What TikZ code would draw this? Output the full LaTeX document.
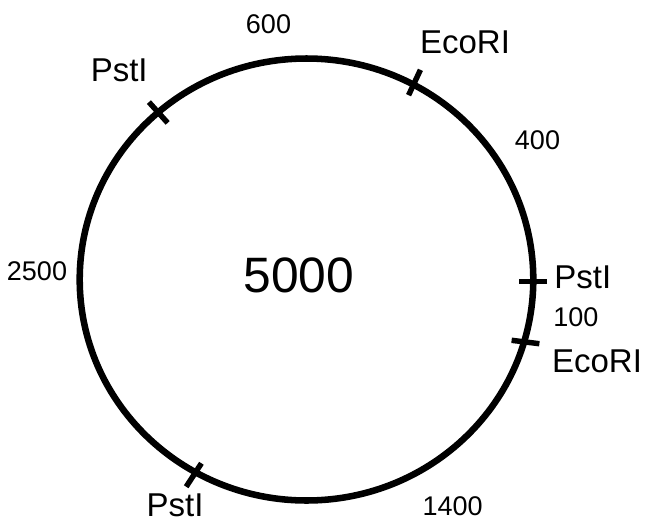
\documentclass[tikz,border=0pt]{standalone}
\usepackage{fontspec}
\setmainfont{Liberation Sans}
\begin{document}
% Plasmid map: 5000 bp ring with PstI / EcoRI cut sites and fragment lengths.
% One unit = one pixel (0.75pt), y axis pointing down.
\begin{tikzpicture}[x=0.75pt,y=-0.75pt,
  ring/.style={line width=4.9pt},
  cut/.style={line width=4.1pt},
  site/.style={font=\fontsize{24.75}{28}\selectfont, anchor=base, inner sep=0pt},
  len/.style={font=\fontsize{20.25}{24}\selectfont, anchor=base, inner sep=0pt},
  total/.style={font=\fontsize{37.3}{42}\selectfont, anchor=base, inner sep=0pt}]
\useasboundingbox (0,0) rectangle (646,522);

% the plasmid
\coordinate (c) at (306.5,279.5);
\draw[ring] (c) ellipse [x radius=170.1pt, y radius=165.75pt];

% cut-site positions on the ring
\coordinate (t1) at (158.3,112.5);
\coordinate (t2) at (414.5,82.5);
\coordinate (t3) at (533,281.7);
\coordinate (t4) at (525.5,342);
\coordinate (t5) at (193.8,475);

% cut marks across the ring
\draw[cut] (t1) ++(-132:14) -- ++(48:28);
\draw[cut] (t2) ++(-65:14) -- ++(115:28);
\draw[cut] (t3) ++(0:14) -- ++(180:28);
\draw[cut] (t4) ++(7:14) -- ++(187:28);
\draw[cut] (t5) ++(123:14) -- ++(-57:28);

% enzyme names
\node[site] (n1) at (119.2,81.7) {PstI};
\node[site] (n2) at (465,53.3) {EcoRI};
\node[site] (n3) at (582.8,288.5) {PstI};
\node[site] (n4) at (597,372.7) {EcoRI};
\node[site] (n5) at (175,516.7) {PstI};

% fragment lengths
\node[len] (l600) at (268.5,33.3) {600};
\node[len] (l400) at (537.5,149.3) {400};
\node[len] (l100) at (575.8,326) {100};
\node[len] (l1400) at (452.7,515) {1400};
\node[len] (l2500) at (37,280) {2500};

% total size
\node[total] (tot) at (299,292.3) {5000};
\end{tikzpicture}
\end{document}
